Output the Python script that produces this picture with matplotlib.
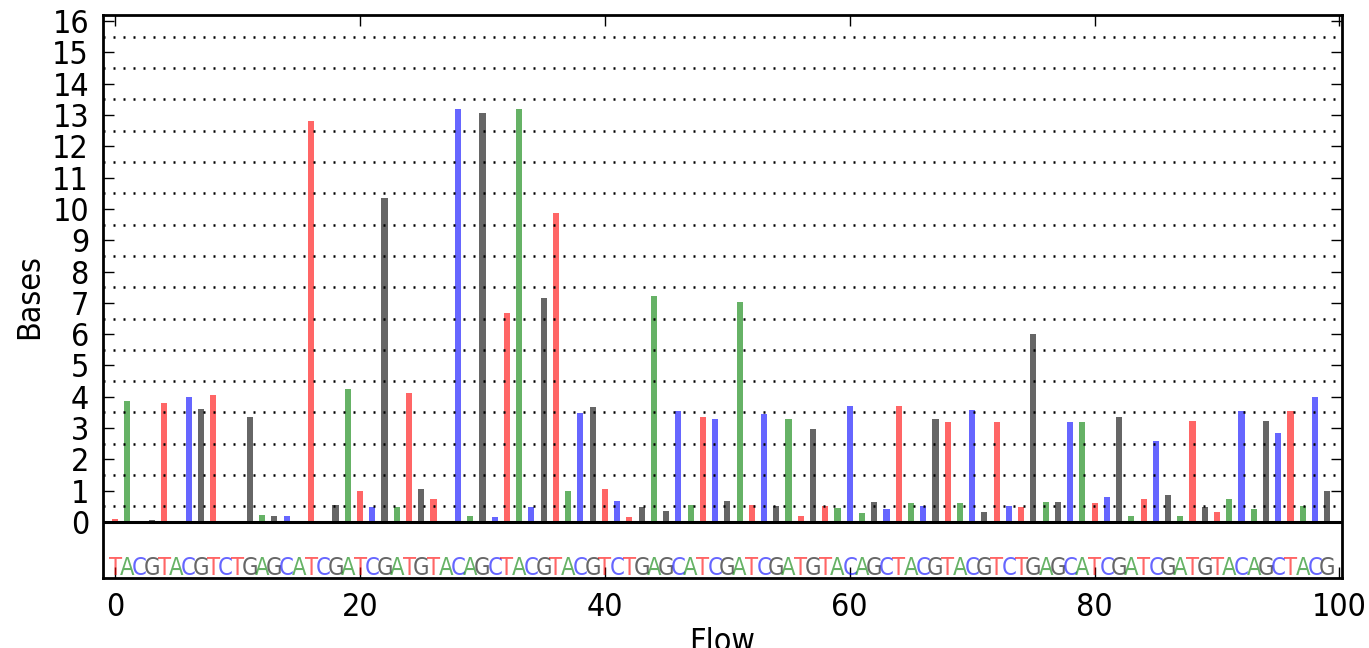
import numpy as np
import matplotlib
matplotlib.use('Agg')
import matplotlib.pyplot as plt

plt.rcParams['font.family'] = ['DejaVu Sans']
plt.rcParams['font.stretch'] = 'condensed'

flow_order = 'TACGTACGTCTGAGCATCGATCGATGTACAGC' * 3 + 'TACG'
bases = [0.08, 3.88, 0.03, 0.06, 3.81, 0.02, 3.98, 3.61, 4.06, 0.04,
         0.04, 3.34, 0.22, 0.2, 0.2, 0.03, 12.8, 0.03, 0.54, 4.24,
         0.99, 0.49, 10.35, 0.49, 4.13, 1.05, 0.73, 0.03, 13.2, 0.2,
         13.08, 0.17, 6.68, 13.2, 0.49, 7.16, 9.88, 1.0, 3.49, 3.66,
         1.05, 0.67, 0.17, 0.49, 7.21, 0.35, 3.56, 0.54, 3.37, 3.29,
         0.67, 7.02, 0.54, 3.45, 0.52, 3.28, 0.2, 2.97, 0.52, 0.46,
         3.72, 0.28, 0.65, 0.42, 3.72, 0.6, 0.52, 3.28, 3.21, 0.6,
         3.58, 0.33, 3.21, 0.52, 0.49, 6.0, 0.65, 0.65, 3.21, 3.21,
         0.6, 0.79, 3.34, 0.2, 0.73, 2.59, 0.86, 0.2, 3.23, 0.49,
         0.33, 0.72, 3.55, 0.42, 3.23, 2.85, 3.55, 0.52, 3.98, 0.99]
base_colors = {'T': 'r', 'A': 'g', 'C': 'b', 'G': 'k'}

flows = np.arange(len(bases))
colors = [base_colors[b] for b in flow_order]

fig = plt.figure(figsize=(13.69, 6.48), dpi=100)
ax = fig.add_axes([0.0752, 0.108, 0.905, 0.869])

ax.bar(flows, bases, 0.5, color=colors, alpha=0.6, linewidth=0, zorder=2)

# dotted lines between the integer ticks
ax.hlines(np.arange(0.5, 16, 1.0), -1, 100.2, colors='k', linewidth=1.8,
          linestyles=(0, (0.8, 3.2)), zorder=3)
ax.axhline(0, color='k', linewidth=2.2, zorder=4)

for i, b in enumerate(flow_order):
    ax.text(i, -1.7, b, color=base_colors[b], alpha=0.6, fontsize=17,
            ha='center', va='baseline')

ax.set_xlim(-1, 100.2)
ax.set_ylim(-1.79, 16.2)
ax.set_yticks(range(17))
ax.set_xticks(range(0, 101, 20))
ax.tick_params(direction='in', top=True, right=True, length=8, width=1,
               labelsize=23, pad=10)
for s in ax.spines.values():
    s.set_linewidth(2)

ax.set_ylabel('Bases', fontsize=23)
ax.yaxis.set_label_coords(-0.047, 0.5)
ax.set_xlabel('Flow', fontsize=23)
ax.xaxis.set_label_coords(0.5, -0.087)

fig.savefig('out.png', dpi=100)
